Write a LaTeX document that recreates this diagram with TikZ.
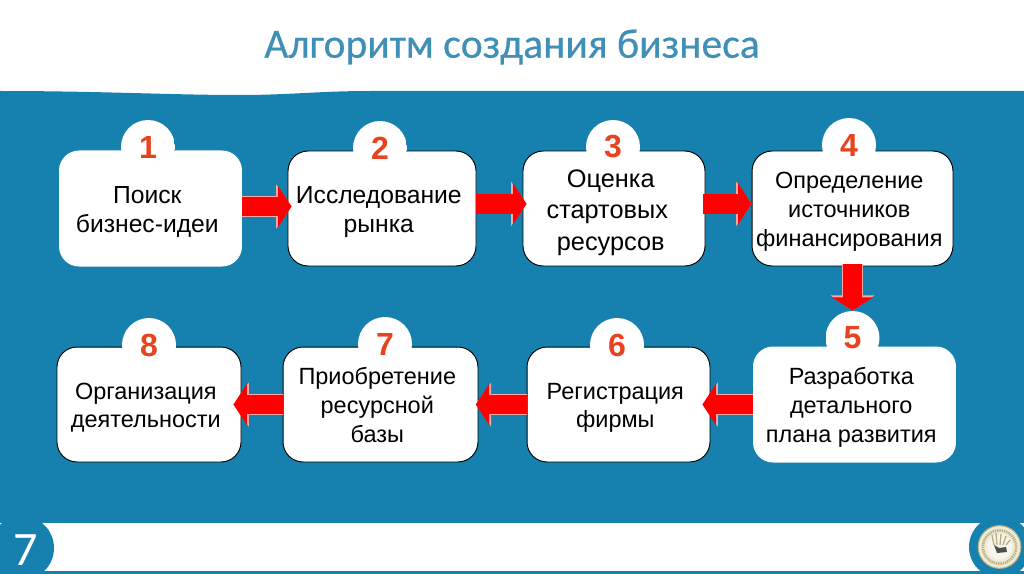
\documentclass[tikz,border=0pt]{standalone}
\usepackage{fontspec}
\setmainfont{Liberation Sans}
\newfontfamily\titlefont{Carlito}[FakeBold=0.5]
\newfontfamily\pagefont{Carlito}
\usetikzlibrary{arrows.meta}
\definecolor{bandblue}{HTML}{1681AF}
\definecolor{titleblue}{HTML}{3F8FB7}
\definecolor{numred}{HTML}{E8431E}
\definecolor{sealcream}{HTML}{EFEBD6}
\definecolor{sealtan}{HTML}{B9AF84}
% box text sits a little left of the box centre
\newcommand{\boxlines}[1]{\makebox[0pt]{\kern-4.8pt\raisebox{\dimexpr-2.4pt-0.25em\relax}[0pt][0pt]{\begin{tabular}{@{}c@{}}#1\end{tabular}}}}
\tikzset{
	stepbox/.style={rounded corners=15pt,fill=white,inner sep=0pt,text=black,font={\fontsize{18.5}{22}\selectfont}},
	smalltext/.style={font={\fontsize{17.6}{21.5}\selectfont}},
	outlined/.style={draw=black,line width=0.7pt},
	numdisc/.style={circle,minimum size=40.5pt,inner sep=0pt,text=numred,font={\fontsize{24}{24}\selectfont\bfseries},
		path picture={\fill[white] (path picture bounding box.north west) rectangle ([yshift=-9pt]path picture bounding box.east);}},
	flow/.style={red,line width=14.5pt,-{Triangle[length=10pt,width=30pt]},
		preaction={draw=red!35!white,line width=15.5pt,-{Triangle[length=11.5pt,width=32.5pt]}}},
}
\begin{document}
\begin{tikzpicture}[x=0.75pt,y=-0.75pt]
	\useasboundingbox (0,0) rectangle (1024,574);
	% background bands
	\fill[bandblue] (0,91) .. controls (100,91) and (170,95) .. (240,95) .. controls (290,95) and (320,91) .. (370,91) -- (1024,91) -- (1024,574) -- (0,574) -- cycle;
	\fill[white] (0,523) rectangle (1024,571);
	\node[text=titleblue,font={\titlefont\fontsize{31.2}{32}\selectfont}] (title) at (512,47) {Алгоритм создания бизнеса};
	% top row
	\node[stepbox,minimum width=137.2pt,minimum height=87pt] (box1) at (150.5,208.5) {\boxlines{Поиск\\бизнес-идеи}};
	\node[stepbox,outlined,minimum width=141pt,minimum height=86.2pt] (box2) at (382,208.5) {\boxlines{Исследование\\рынка}};
	\node[stepbox,outlined,minimum width=136.5pt,minimum height=86.2pt,font={\fontsize{19}{23.6}\selectfont}] (box3) at (614,208.5) {\boxlines{Оценка\\стартовых\kern5.3pt\\ресурсов}};
	\node[stepbox,outlined,smalltext,minimum width=150.7pt,minimum height=86.2pt] (box4) at (852.5,208.5) {\boxlines{Определение\\источников\\финансирования}};
	% bottom row
	\node[stepbox,smalltext,minimum width=152.2pt,minimum height=87pt] (box5) at (854.5,404.5) {\boxlines{Разработка\\детального\\плана развития}};
	\node[stepbox,outlined,smalltext,minimum width=137.2pt,minimum height=86.2pt] (box6) at (618.5,404.5) {\boxlines{Регистрация\\фирмы}};
	\node[stepbox,outlined,smalltext,minimum width=146.2pt,minimum height=86.2pt] (box7) at (380.5,404.5) {\boxlines{Приобретение\\ресурсной\\базы}};
	\node[stepbox,outlined,smalltext,minimum width=138pt,minimum height=86.2pt] (box8) at (149,404.5) {\boxlines{Организация\\деятельности}};
	% numbers
	\node[numdisc] (num1) at (148,147) {1};
	\node[numdisc] (num2) at (380,148) {2};
	\node[numdisc] (num3) at (613,147) {3};
	\node[numdisc] (num4) at (849,145) {4};
	\node[numdisc] (num5) at (852.5,338) {5};
	\node[numdisc] (num6) at (617,345) {6};
	\node[numdisc] (num7) at (385,344) {7};
	\node[numdisc] (num8) at (149,345) {8};
	% arrows
	\draw[flow,shorten >=-3pt] ([yshift=1.5pt]box1.east) -- ([yshift=1.5pt]box2.west);
	\draw[flow,shorten >=-3pt] ([yshift=3.5pt]box2.east) -- ([yshift=3.5pt]box3.west);
	\draw[flow,shorten <=-2pt] ([yshift=3.5pt]box3.east) -- ([yshift=3.5pt]box4.west);
	\draw[flow,shorten <=-1.5pt] (box4.south) -- (num5.north);
	\draw[flow,shorten >=-6pt] (box5.west) -- (box6.east);
	\draw[flow,shorten >=-2pt] (box6.west) -- (box7.east);
	\draw[flow,shorten >=-6pt] (box7.west) -- (box8.east);
	% footer
	\node[circle,fill=bandblue,minimum size=48pt,inner sep=0pt] (pagedisc) at (22,548) {};
	\node[text=white,inner sep=0pt,font={\pagefont\fontsize{36}{36}\selectfont}] (pagenum) at (26,550) {7};
	\node[circle,fill=bandblue,minimum size=46.5pt,inner sep=0pt] (sealdisc) at (1000,547) {};
	\node[circle,fill=sealcream,draw=sealtan,line width=0.8pt,minimum size=32pt,inner sep=0pt] (seal) at (999.5,547) {};
	\draw[sealtan,line width=2pt,dash pattern=on 1pt off 0.7pt] (seal) circle (12.5pt);
	\fill[sealcream!50!white] (seal) circle (9.5pt);
	\foreach \fx/\tx/\ty in {994/992/535,997/996/533,1000/1001/534,1003/1006/536,1006/1010/540}
		\draw[sealtan,line width=1pt] (\fx,545) -- (\tx,\ty);
	\fill[black!70] (994,545) -- (999,548) -- (1006,547) -- (1007,552) -- (997,553) -- cycle;
\end{tikzpicture}
\end{document}
